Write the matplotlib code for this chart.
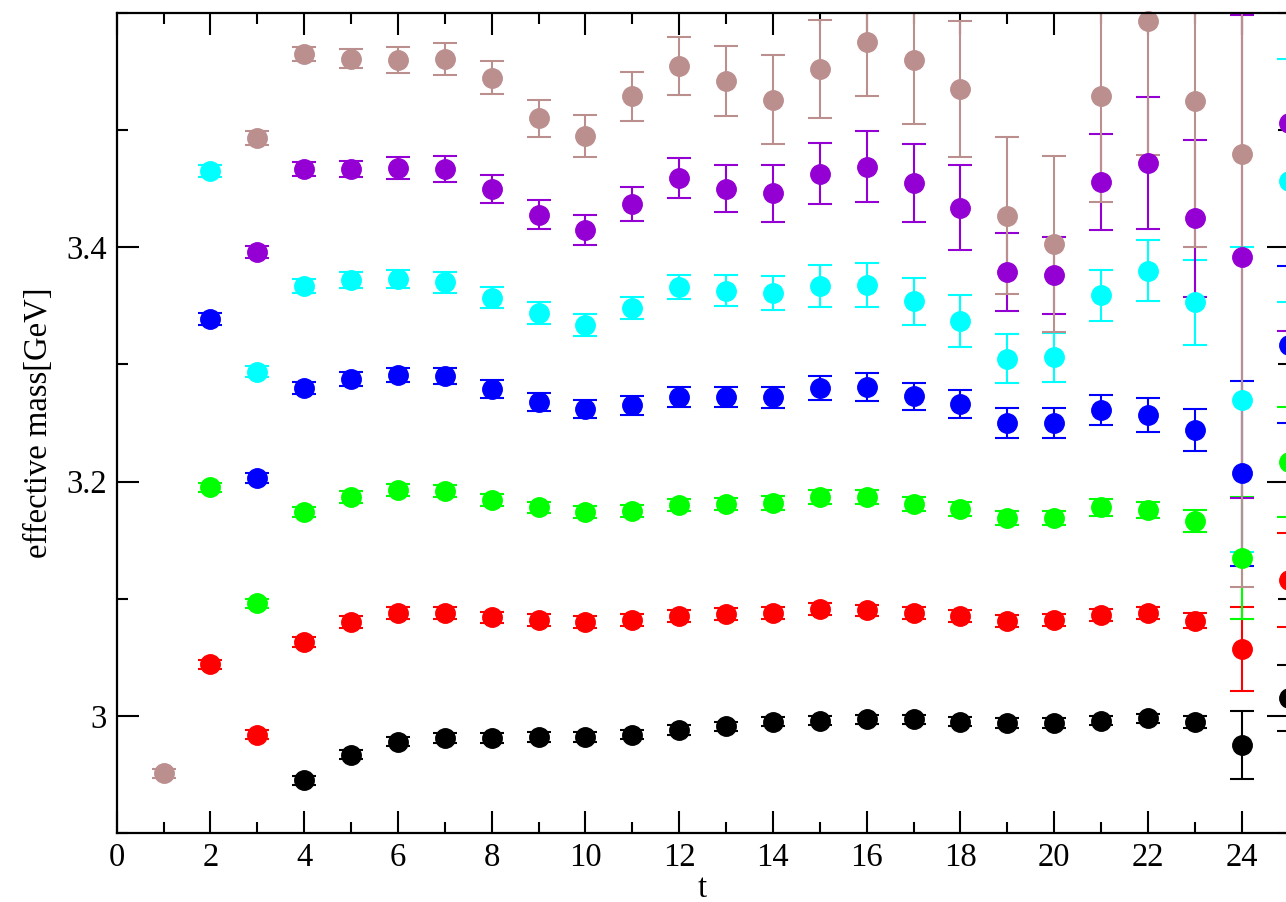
import matplotlib.pyplot as plt
from matplotlib.ticker import MultipleLocator

plt.rcParams['font.family'] = ['Liberation Serif', 'DejaVu Serif']

# effective masses per channel, t = first .. 25
t_brown = list(range(1, 25))
m_brown = [2.951, None, 3.493, 3.565, 3.561, 3.560, 3.561, 3.545, 3.510, 3.495,
           3.529, 3.555, 3.542, 3.526, 3.552, 3.575, 3.560, 3.535, 3.427, 3.403,
           3.529, 3.593, 3.525, 3.480]
e_brown = [0.004, None, 0.006, 0.006, 0.008, 0.011, 0.0137, 0.0145, 0.0154, 0.018,
           0.021, 0.025, 0.030, 0.038, 0.042, 0.046, 0.055, 0.058, 0.067, 0.075,
           0.090, 0.114, 0.125, 0.370]

t_purple = list(range(3, 26))
m_purple = [3.396, 3.467, 3.467, 3.468, 3.467, 3.450, 3.428, 3.415, 3.437, 3.459,
            3.450, 3.446, 3.463, 3.469, 3.455, 3.434, 3.379, 3.376, 3.456, 3.472,
            3.425, 3.392, 3.506]
e_purple = [0.005, 0.006, 0.007, 0.0095, 0.011, 0.012, 0.012, 0.013, 0.0145, 0.017,
            0.020, 0.024, 0.026, 0.030, 0.033, 0.036, 0.033, 0.033, 0.041, 0.056,
            0.067, 0.206, 0.177]

t_cyan = list(range(2, 26))
m_cyan = [3.465, 3.294, 3.367, 3.372, 3.373, 3.370, 3.357, 3.344, 3.334, 3.348,
          3.366, 3.363, 3.361, 3.367, 3.368, 3.354, 3.337, 3.305, 3.306, 3.359,
          3.380, 3.353, 3.270, 3.457]
e_cyan = [0.005, 0.005, 0.006, 0.007, 0.008, 0.009, 0.009, 0.0095, 0.0095, 0.0095,
          0.010, 0.013, 0.0145, 0.018, 0.019, 0.020, 0.022, 0.021, 0.021, 0.022,
          0.026, 0.036, 0.130, 0.104]

t_blue = list(range(2, 26))
m_blue = [3.339, 3.203, 3.280, 3.288, 3.291, 3.290, 3.279, 3.268, 3.262, 3.265,
          3.272, 3.272, 3.272, 3.280, 3.281, 3.273, 3.266, 3.250, 3.250, 3.261,
          3.257, 3.244, 3.207, 3.317]
e_blue = [0.005, 0.0045, 0.005, 0.006, 0.006, 0.007, 0.008, 0.008, 0.008, 0.008,
          0.0085, 0.0085, 0.009, 0.010, 0.012, 0.0115, 0.012, 0.013, 0.013, 0.013,
          0.0145, 0.018, 0.079, 0.067]

t_green = list(range(2, 26))
m_green = [3.195, 3.096, 3.174, 3.187, 3.193, 3.192, 3.184, 3.178, 3.174, 3.175,
           3.180, 3.181, 3.182, 3.187, 3.187, 3.181, 3.177, 3.169, 3.169, 3.178,
           3.176, 3.166, 3.135, 3.217]
e_green = [0.004, 0.004, 0.004, 0.005, 0.005, 0.005, 0.005, 0.005, 0.005, 0.005,
           0.005, 0.005, 0.006, 0.006, 0.006, 0.006, 0.006, 0.006, 0.006, 0.007,
           0.007, 0.0094, 0.052, 0.047]

t_red = list(range(2, 26))
m_red = [3.044, 2.984, 3.063, 3.080, 3.088, 3.088, 3.084, 3.082, 3.080, 3.082,
         3.085, 3.087, 3.088, 3.091, 3.090, 3.088, 3.085, 3.081, 3.082, 3.086,
         3.088, 3.081, 3.057, 3.116]
e_red = [0.004, 0.004, 0.004, 0.005, 0.005, 0.005, 0.005, 0.005, 0.005, 0.005,
         0.005, 0.005, 0.005, 0.005, 0.005, 0.005, 0.005, 0.005, 0.005, 0.005,
         0.005, 0.0064, 0.036, 0.040]

t_black = list(range(4, 26))
m_black = [2.945, 2.967, 2.978, 2.981, 2.981, 2.982, 2.982, 2.984, 2.988, 2.991,
           2.995, 2.996, 2.997, 2.997, 2.995, 2.994, 2.994, 2.996, 2.998, 2.995,
           2.975, 3.015]
e_black = [0.004, 0.004, 0.004, 0.004, 0.004, 0.004, 0.004, 0.004, 0.004, 0.004,
           0.004, 0.004, 0.004, 0.004, 0.004, 0.004, 0.004, 0.004, 0.004, 0.005,
           0.029, 0.028]

sets = [
    (t_black, m_black, e_black, 'black'),
    (t_red, m_red, e_red, '#ff0000'),
    (t_green, m_green, e_green, '#00ff00'),
    (t_blue, m_blue, e_blue, '#0000ff'),
    (t_cyan, m_cyan, e_cyan, '#00ffff'),
    (t_purple, m_purple, e_purple, '#9400d3'),
    (t_brown, m_brown, e_brown, '#bc8f8f'),
]

fig = plt.figure(figsize=(12.86, 9.02), dpi=100)
ax = fig.add_axes([0.0907, 0.0765, 0.9113, 0.909])

for t, m, e, c in sets:
    pts = [(ti, mi, ei) for ti, mi, ei in zip(t, m, e) if mi is not None]
    x = [p[0] for p in pts]
    y = [p[1] for p in pts]
    err = [p[2] for p in pts]
    line, caps, bars = ax.errorbar(x, y, yerr=err, fmt='o', color=c, ms=14,
                                   elinewidth=1.5, capsize=8.4, capthick=1.5)
    line.set_clip_on(False)

ax.set_xlim(0, 25)
ax.set_ylim(2.9, 3.6)
ax.xaxis.set_major_locator(MultipleLocator(2))
ax.xaxis.set_minor_locator(MultipleLocator(1))
ax.yaxis.set_major_locator(MultipleLocator(0.2))
ax.yaxis.set_minor_locator(MultipleLocator(0.1))
ax.set_yticks([3.0, 3.2, 3.4])
ax.set_yticklabels(['3', '3.2', '3.4'])

ax.tick_params(which='both', direction='in', top=True, right=True,
               width=1.5, labelsize=23.5, pad=7)
ax.tick_params(which='major', length=16)
ax.tick_params(which='minor', length=8)
for sp in ax.spines.values():
    sp.set_linewidth(1.6)

ax.set_xlabel('t', fontsize=23.5, labelpad=0)
ax.set_ylabel('effective mass[GeV]', fontsize=23.5, labelpad=9)

fig.savefig('out.png', dpi=100)
